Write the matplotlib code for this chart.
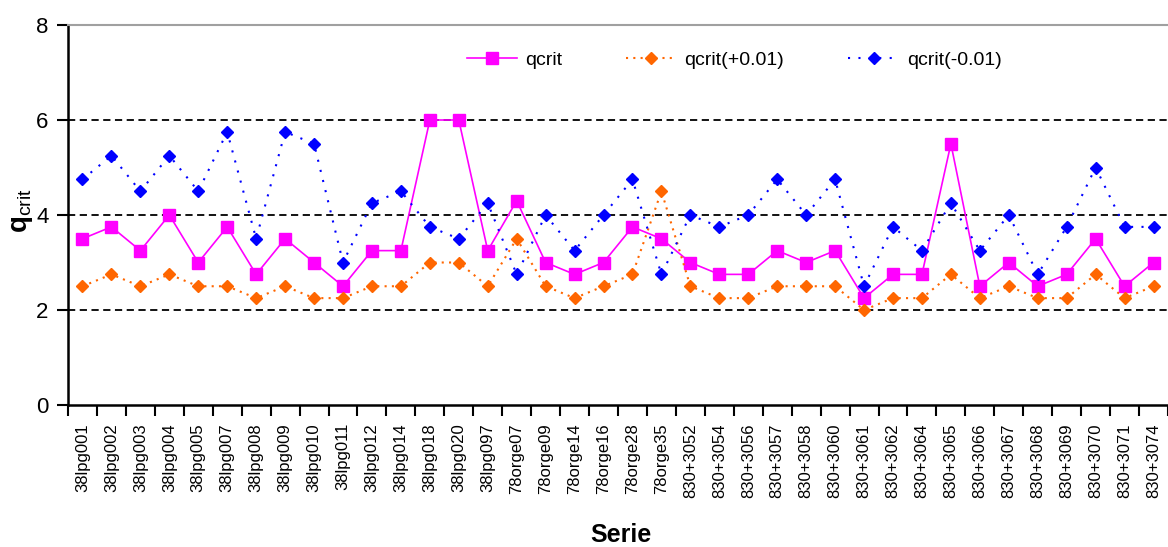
import numpy as np
import matplotlib
matplotlib.use('Agg')
import matplotlib.pyplot as plt

plt.rcParams['font.family'] = ['Liberation Sans', 'DejaVu Sans']
plt.rcParams['mathtext.fontset'] = 'custom'
plt.rcParams['mathtext.rm'] = 'Liberation Sans'
plt.rcParams['mathtext.bf'] = 'Liberation Sans:bold'

# Data
series = ['38lpg001', '38lpg002', '38lpg003', '38lpg004', '38lpg005', '38lpg007',
          '38lpg008', '38lpg009', '38lpg010', '38lpg011', '38lpg012', '38lpg014',
          '38lpg018', '38lpg020', '38lpg097', '78orge07', '78orge09', '78orge14',
          '78orge16', '78orge28', '78orge35', '830+3052', '830+3054', '830+3056',
          '830+3057', '830+3058', '830+3060', '830+3061', '830+3062', '830+3064',
          '830+3065', '830+3066', '830+3067', '830+3068', '830+3069', '830+3070',
          '830+3071', '830+3074']

qcrit = [3.5, 3.75, 3.25, 4.0, 3.0, 3.75, 2.75, 3.5, 3.0, 2.5, 3.25, 3.25,
         6.0, 6.0, 3.25, 4.3, 3.0, 2.75, 3.0, 3.75, 3.5, 3.0, 2.75, 2.75,
         3.25, 3.0, 3.25, 2.25, 2.75, 2.75, 5.5, 2.5, 3.0, 2.5, 2.75, 3.5,
         2.5, 3.0]

qcrit_plus = [2.5, 2.75, 2.5, 2.75, 2.5, 2.5, 2.25, 2.5, 2.25, 2.25, 2.5, 2.5,
              3.0, 3.0, 2.5, 3.5, 2.5, 2.25, 2.5, 2.75, 4.5, 2.5, 2.25, 2.25,
              2.5, 2.5, 2.5, 2.0, 2.25, 2.25, 2.75, 2.25, 2.5, 2.25, 2.25, 2.75,
              2.25, 2.5]

qcrit_minus = [4.75, 5.25, 4.5, 5.25, 4.5, 5.75, 3.5, 5.75, 5.5, 3.0, 4.25, 4.5,
               3.75, 3.5, 4.25, 2.75, 4.0, 3.25, 4.0, 4.75, 2.75, 4.0, 3.75, 4.0,
               4.75, 4.0, 4.75, 2.5, 3.75, 3.25, 4.25, 3.25, 4.0, 2.75, 3.75, 5.0,
               3.75, 3.75]

x = np.arange(len(series))

fig = plt.figure(figsize=(11.68, 5.47), dpi=100)
ax = fig.add_axes([68/1168, 1-405/547, 1-68/1168, (405-25)/547])

# dashed grid
for g in [2, 4, 6]:
    ax.axhline(g, color='black', lw=1.3, ls=(0, (4, 2.5)), zorder=1)

ax.plot(x, qcrit, color='#FF00FF', lw=1.2, marker='s', markersize=8,
        markeredgecolor='#FF00FF', label='qcrit', zorder=3)
ax.plot(x, qcrit_plus, color='#FF6600', lw=1.5, ls=(0, (1, 2.5)), marker='D',
        markersize=6.5, markeredgecolor='#FF6600', label='qcrit(+0.01)', zorder=3)
ax.plot(x, qcrit_minus, color='#0000FF', lw=1.5, ls=(0, (1, 4)), marker='D',
        markersize=6.5, markeredgecolor='#0000FF', label='qcrit(-0.01)', zorder=3)

ax.set_ylim(0, 8)
ax.set_yticks([0, 2, 4, 6, 8])
ax.set_xlim(-0.5, (1168-82.6)/29.19)

# boundary ticks, centred labels
ax.set_xticks(np.arange(len(series)+1) - 0.5)
ax.set_xticklabels([])
ax.set_xticks(x, minor=True)
ax.set_xticklabels(series, minor=True, rotation=90, fontsize=12)
ax.tick_params(axis='x', which='major', length=8, width=1.5, direction='out')
ax.tick_params(axis='x', which='minor', length=0, pad=13)
ax.tick_params(axis='y', length=8, width=1.5, labelsize=16, pad=6)

ax.spines['right'].set_visible(False)
ax.spines['top'].set_color('#A0A0A0')
ax.spines['top'].set_linewidth(1.5)
ax.spines['left'].set_linewidth(1.8)
ax.spines['bottom'].set_linewidth(1.8)

fig.text(22/1168, 1-211/547, r'$\mathbf{q}_{\mathrm{crit}}$', rotation=90,
         fontsize=20, ha='center', va='center')
fig.text(621/1168, 1-535/547, 'Serie', fontsize=18, fontweight='bold',
         ha='center', va='center')

fig.legend(loc='center', bbox_to_anchor=(734/1168, 1-60/547), ncol=3,
           frameon=False, fontsize=14, handlelength=2.6, handletextpad=0.4,
           columnspacing=3.3)

fig.savefig('out.png', dpi=100)
